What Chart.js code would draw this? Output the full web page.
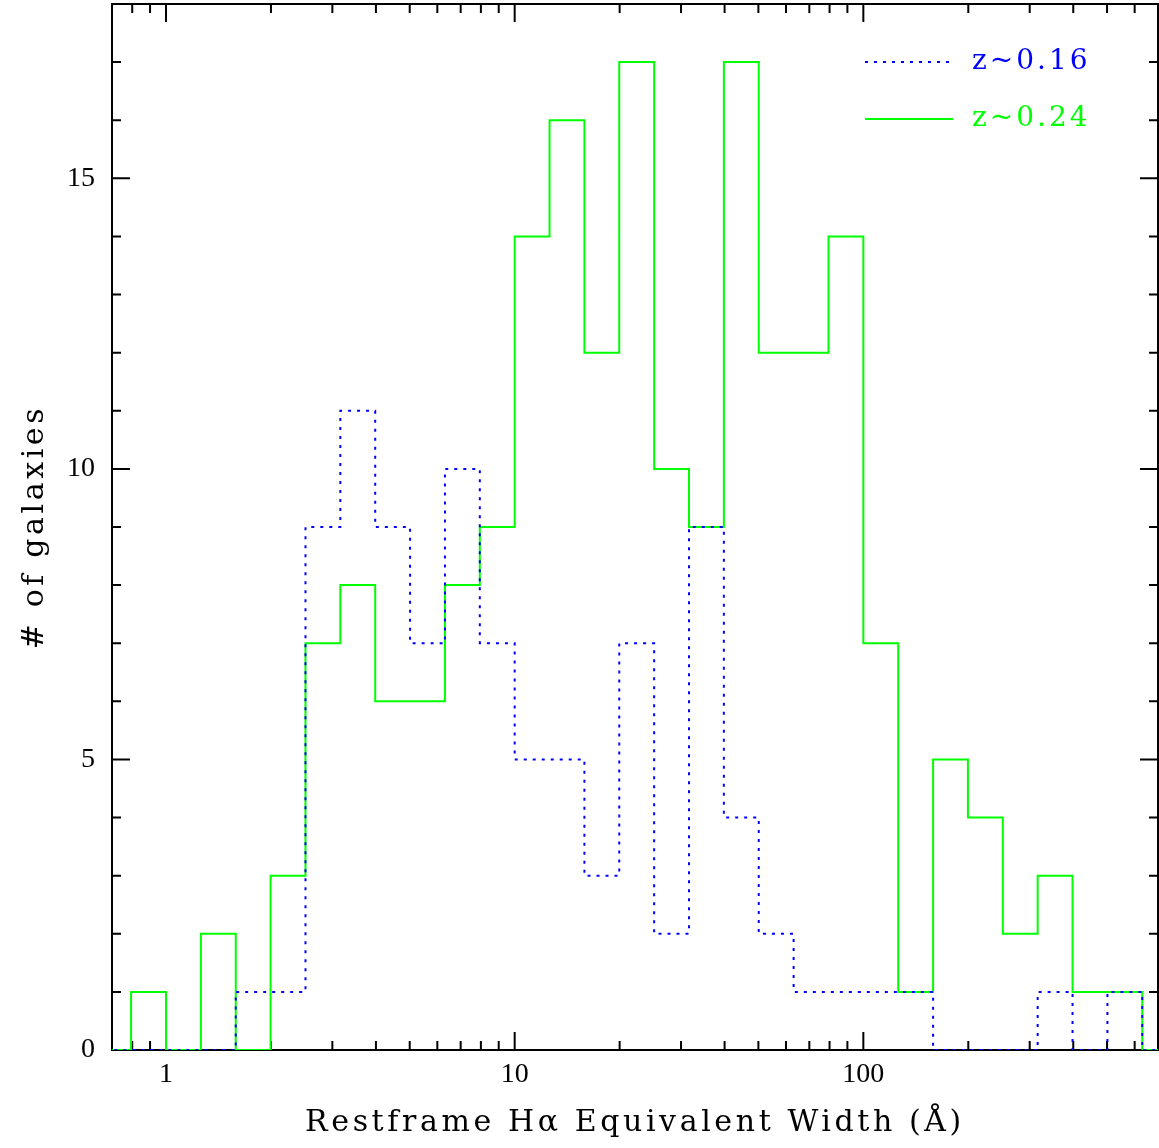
<!DOCTYPE html>
<html>
<head>
<meta charset="utf-8">
<script src="https://cdn.jsdelivr.net/npm/chart.js@4"></script>
<style>
  html, body { margin: 0; padding: 0; background: #fff; }
  canvas { display: block; }
</style>
</head>
<body>
<canvas id="ewHist" width="1159" height="1148"></canvas>
<script>
// left edges of the 0.1 dex bins (Angstrom); the last entry closes the final bin
const binEdges = [0.631, 0.794, 1, 1.259, 1.585, 1.995, 2.512, 3.162, 3.981, 5.012, 6.310, 7.943,
  10, 12.59, 15.85, 19.95, 25.12, 31.62, 39.81, 50.12, 63.10, 79.43,
  100, 125.9, 158.5, 199.5, 251.2, 316.2, 398.1, 501.2, 631.0, 794.3];

// galaxies per bin
const countsZ016 = [0, 0, 0, 0, 1, 1, 9, 11, 9, 7, 10, 7, 5, 5, 3, 7, 2, 9, 4, 2, 1, 1, 1, 1, 0, 0, 0, 1, 0, 1, 0];
const countsZ024 = [0, 1, 0, 2, 0, 3, 7, 8, 6, 6, 8, 9, 14, 16, 12, 17, 10, 9, 17, 12, 12, 14, 7, 1, 5, 4, 2, 3, 1, 1, 0];

const seriesLabels = ['z~0.16', 'z~0.24'];

// axis ticks
const xTickValues = [0.8, 0.9, 1, 2, 3, 4, 5, 6, 7, 8, 9, 10, 20, 30, 40, 50, 60, 70, 80, 90,
  100, 200, 300, 400, 500, 600, 700];
const xLabelValues = [1, 10, 100];
const yLabelValues = [0, 5, 10, 15];

const BLUE = '#0000ff';
const GREEN = '#00ff00';
const DOTS = [3, 6];

// histogram as step points: value of each bin placed at its left edge
function toSteps(counts) {
  return binEdges.map((edge, i) => ({ x: edge, y: counts[Math.min(i, counts.length - 1)] }));
}

// frame with inward ticks on all four sides, drawn under the histograms
const frameTicks = {
  id: 'frameTicks',
  beforeDatasetsDraw(chart) {
    const { ctx, chartArea: a, scales: { x, y } } = chart;
    ctx.save();
    ctx.letterSpacing = '0px';
    ctx.strokeStyle = '#000';
    ctx.lineWidth = 2;
    ctx.beginPath();
    x.ticks.forEach((t) => {
      const px = x.getPixelForValue(t.value);
      const len = xLabelValues.includes(t.value) ? 18 : 9;
      ctx.moveTo(px, a.bottom);
      ctx.lineTo(px, a.bottom - len);
      ctx.moveTo(px, a.top);
      ctx.lineTo(px, a.top + len);
    });
    y.ticks.forEach((t) => {
      const py = y.getPixelForValue(t.value);
      const len = yLabelValues.includes(t.value) ? 18 : 9;
      ctx.moveTo(a.left, py);
      ctx.lineTo(a.left + len, py);
      ctx.moveTo(a.right, py);
      ctx.lineTo(a.right - len, py);
    });
    ctx.stroke();
    ctx.strokeRect(a.left, a.top, a.right - a.left, a.bottom - a.top);
    ctx.restore();
  }
};

// titles get wider spacing than tick labels (titles are drawn before the datasets, labels after)
const textSpacing = {
  id: 'textSpacing',
  beforeDraw(chart) { chart.ctx.letterSpacing = '3.6px'; },
  beforeDatasetsDraw(chart) { chart.ctx.letterSpacing = '0px'; }
};

// legend in the top right corner of the plot
const cornerLegend = {
  id: 'cornerLegend',
  afterDraw(chart) {
    const { ctx, chartArea: a } = chart;
    const rows = [
      { text: seriesLabels[0], color: BLUE, dash: DOTS, y: a.top + 58 },
      { text: seriesLabels[1], color: GREEN, dash: [], y: a.top + 115 }
    ];
    ctx.save();
    ctx.letterSpacing = '3px';
    ctx.font = '28px "DejaVu Serif"';
    ctx.textBaseline = 'middle';
    rows.forEach((r) => {
      ctx.strokeStyle = r.color;
      ctx.lineWidth = 2;
      ctx.setLineDash(r.dash);
      ctx.beginPath();
      ctx.moveTo(a.right - 293, r.y);
      ctx.lineTo(a.right - 205, r.y);
      ctx.stroke();
      ctx.fillStyle = r.color;
      ctx.fillText(r.text, a.right - 186, r.y);
    });
    ctx.restore();
  }
};

const tickFont = { family: '"Liberation Serif"', size: 28 };
const titleFont = { family: '"DejaVu Serif"', size: 30 };

new Chart(document.getElementById('ewHist'), {
  type: 'line',
  data: {
    datasets: [
      {
        label: seriesLabels[0],
        data: toSteps(countsZ016),
        borderColor: BLUE,
        borderWidth: 2,
        borderDash: DOTS,
        stepped: 'before',
        pointRadius: 0,
        fill: false
      },
      {
        label: seriesLabels[1],
        data: toSteps(countsZ024),
        borderColor: GREEN,
        borderWidth: 2,
        stepped: 'before',
        pointRadius: 0,
        fill: false
      }
    ]
  },
  options: {
    responsive: false,
    animation: false,
    layout: { padding: { top: 4, right: 1, left: 0, bottom: 0 } },
    plugins: {
      legend: { display: false },
      tooltip: { enabled: false }
    },
    scales: {
      x: {
        type: 'logarithmic',
        min: 0.7,
        max: 700,
        grid: { display: false, drawTicks: false },
        border: { display: false },
        afterBuildTicks: (axis) => {
          axis.ticks = xTickValues.map((v) => ({ value: v, major: xLabelValues.includes(v) }));
        },
        afterFit: (axis) => {
          axis.height = 98;
          axis.paddingLeft = 0;
          axis.paddingRight = 0;
        },
        ticks: {
          z: 1,
          autoSkip: false,
          maxRotation: 0,
          padding: 8,
          color: '#000',
          font: tickFont,
          callback: (v) => (xLabelValues.includes(v) ? String(v) : '')
        },
        title: {
          display: true,
          text: 'Restframe Hα Equivalent Width (Å)',
          color: '#000',
          font: titleFont,
          padding: { top: 0, bottom: 7 }
        }
      },
      y: {
        min: 0,
        max: 18,
        grid: { display: false, drawTicks: false },
        border: { display: false },
        afterFit: (axis) => {
          axis.width = 112;
          axis.paddingTop = 0;
          axis.paddingBottom = 0;
        },
        ticks: {
          z: 1,
          stepSize: 1,
          padding: 17,
          color: '#000',
          font: tickFont,
          callback: (v) => (yLabelValues.includes(v) ? String(v) : '')
        },
        title: {
          display: true,
          text: '# of galaxies',
          color: '#000',
          font: titleFont,
          padding: { top: 17, bottom: 0 }
        }
      }
    }
  },
  plugins: [frameTicks, textSpacing, cornerLegend]
});
</script>
</body>
</html>
